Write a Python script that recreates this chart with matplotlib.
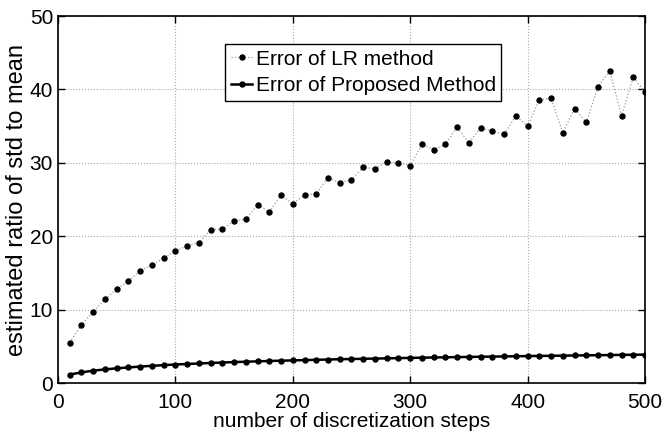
import matplotlib
matplotlib.use("Agg")
import matplotlib.pyplot as plt

steps = list(range(10, 501, 10))
lr_error = [5.5, 7.95, 9.7, 11.4, 12.8, 13.9, 15.3, 16.1, 17.0, 18.0,
            18.7, 19.1, 20.9, 20.95, 22.1, 22.3, 24.3, 23.3, 25.6, 24.4,
            25.6, 25.8, 28.0, 27.3, 27.7, 29.4, 29.2, 30.1, 30.0, 29.6,
            32.5, 31.8, 32.5, 34.9, 32.7, 34.8, 34.3, 33.9, 36.4, 35.0,
            38.6, 38.8, 34.1, 37.4, 35.5, 40.4, 42.5, 36.4, 41.7, 39.6]
proposed_error = [1.15, 1.45, 1.68, 1.85, 2.0, 2.12, 2.24, 2.34, 2.43, 2.52,
                  2.59, 2.66, 2.73, 2.79, 2.85, 2.9, 2.95, 3.0, 3.04, 3.08,
                  3.12, 3.16, 3.2, 3.24, 3.27, 3.3, 3.33, 3.36, 3.39, 3.42,
                  3.45, 3.48, 3.5, 3.53, 3.55, 3.58, 3.6, 3.62, 3.65, 3.67,
                  3.69, 3.71, 3.73, 3.75, 3.77, 3.79, 3.81, 3.83, 3.85, 3.87]
xticks = [0, 100, 200, 300, 400, 500]
yticks = [0, 10, 20, 30, 40, 50]

plt.rcParams['font.family'] = ['Liberation Sans', 'DejaVu Sans']

fig = plt.figure(figsize=(6.64, 4.34), dpi=100)
ax = fig.add_axes([0.0873, 0.1175, 0.8841, 0.8455])

ax.plot(steps, lr_error, linestyle=':', color='#999999', linewidth=0.9,
        marker='o', markersize=3.6, markerfacecolor='black',
        markeredgecolor='black', label='Error of LR method')
ax.plot(steps, proposed_error, linestyle='-', color='black', linewidth=1.8,
        marker='o', markersize=3.6, markerfacecolor='black',
        markeredgecolor='black', label='Error of Proposed Method')

ax.set_xlim(0, 500)
ax.set_ylim(0, 50)
ax.set_xticks(xticks)
ax.set_yticks(yticks)
ax.grid(True, linestyle=':', color='#aaaaaa', linewidth=0.8)
ax.tick_params(direction='in', top=True, right=True, labelsize=15,
               length=5, width=1)
ax.tick_params(axis='x', pad=7)
ax.tick_params(axis='y', pad=3.5)
for s in ax.spines.values():
    s.set_linewidth(1.2)

ax.set_xlabel('number of discretization steps', fontsize=15, labelpad=0.5)
ax.set_ylabel('estimated ratio of std to mean', fontsize=17, labelpad=1)

leg = ax.legend(loc='upper left', bbox_to_anchor=(0.2845, 0.9237), fontsize=15,
                frameon=True, fancybox=False, edgecolor='black',
                framealpha=1, borderaxespad=0, handlelength=1.05,
                handletextpad=0.15, borderpad=0.27, labelspacing=0.37)
leg.get_frame().set_linewidth(1.0)

fig.savefig('out.png', dpi=100)
